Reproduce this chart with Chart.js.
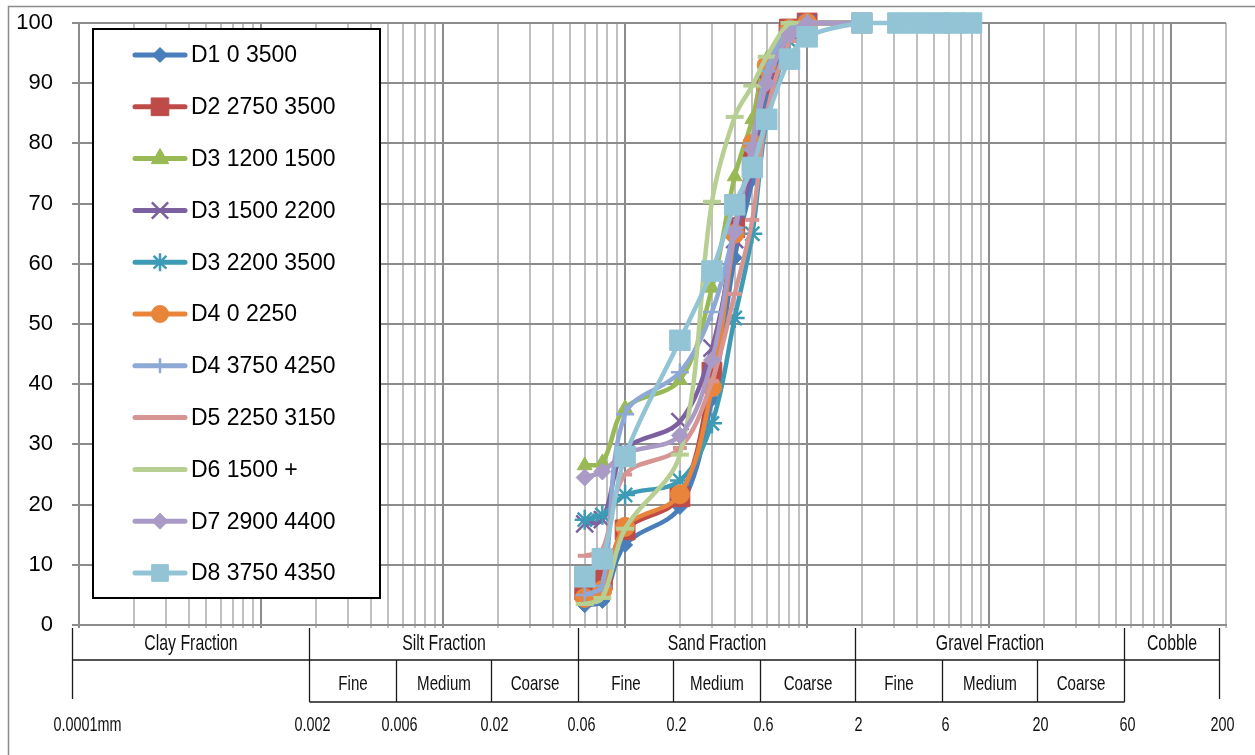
<!DOCTYPE html>
<html>
<head>
<meta charset="utf-8">
<title>Particle size distribution</title>
<script src="https://cdn.jsdelivr.net/npm/chart.js@4.4.0/dist/chart.umd.min.js"></script>
<style>
  html, body { margin: 0; padding: 0; background: #fff; }
</style>
</head>
<body>
<canvas id="chart" width="1255" height="755"></canvas>
<script>
// sieve sizes (mm)
const sizesMm = [0.06, 0.075, 0.1, 0.2, 0.3, 0.4, 0.5, 0.6, 0.8, 1.0, 2.0];
const sizesMmD8 = [0.06, 0.075, 0.1, 0.2, 0.3, 0.4, 0.5, 0.6, 0.8, 1.0, 2.0, 3.15, 4.1, 5.3, 6.4, 8.0];

// percent passing
const d1_0_3500    = [3.3, 4.0, 13.3, 19.6, 37.5, 61, 74, 88, 98, 100, 100];
const d2_2750_3500 = [5.8, 7.5, 15.8, 21.3, 42, 66, 77, 90, 99, 100, 100];
const d3_1200_1500 = [26.5, 27, 36, 40.7, 56, 74.5, 84, 94, 99, 100, 100];
const d3_1500_2200 = [16.8, 17.5, 29, 33.8, 46, 64, 76, 90, 98, 100, 100];
const d3_2200_3500 = [17.5, 18.3, 21.6, 24, 33.5, 51, 65, 84, 97, 100, 100];
const d4_0_2250    = [4.5, 5.8, 16.3, 21.7, 39.5, 65, 80, 93, 99, 100, 100];
const d4_3750_4250 = [5.0, 6.5, 35, 42, 52, 66, 80, 92, 99, 100, 100];
const d5_2250_3150 = [11.5, 12.5, 25, 29.4, 40.5, 55, 67.3, 85, 97, 100, 100];
const d6_1500      = [3.5, 4.5, 16, 28.3, 70.3, 84.4, 89.6, 94.4, 100, 100, 100];
const d7_2900_4400 = [24.5, 25.5, 28.5, 31.5, 44, 65.3, 79, 90, 98, 100, 100];
const d8_3750_4350 = [8, 11, 28, 47.3, 58.8, 69.8, 76, 84, 94, 97.7, 100, 100, 100, 100, 100, 100];

const seriesNames = ['D1 0 3500', 'D2 2750 3500', 'D3 1200 1500', 'D3 1500 2200', 'D3 2200 3500',
  'D4 0 2250', 'D4 3750 4250', 'D5 2250 3150', 'D6 1500 +', 'D7 2900 4400', 'D8 3750 4350'];
const seriesValues = [d1_0_3500, d2_2750_3500, d3_1200_1500, d3_1500_2200, d3_2200_3500,
  d4_0_2250, d4_3750_4250, d5_2250_3150, d6_1500, d7_2900_4400, d8_3750_4350];
const seriesSizes = seriesValues.map((v, i) => i === 10 ? sizesMmD8 : sizesMm);

// y axis ticks
const yTicks = [0, 10, 20, 30, 40, 50, 60, 70, 80, 90, 100];

// soil classification table under the axis
const fractionBounds = [0.0001, 0.002, 0.06, 2, 60, 200];
const fractionNames = ['Clay Fraction', 'Silt Fraction', 'Sand Fraction', 'Gravel Fraction', 'Cobble'];
const subBounds = [0.002, 0.006, 0.02, 0.06, 0.2, 0.6, 2, 6, 20, 60];
const subNames = ['Fine', 'Medium', 'Coarse', 'Fine', 'Medium', 'Coarse', 'Fine', 'Medium', 'Coarse'];
const sizeLabelValues = [0.0001, 0.002, 0.006, 0.02, 0.06, 0.2, 0.6, 2, 6, 20, 60, 200];
const sizeLabels = ['0.0001', '0.002', '0.006', '0.02', '0.06', '0.2', '0.6', '2', '6', '20', '60', '200'];

// styles
const seriesColors = ['#4A7EBB', '#BE4B48', '#98B954', '#7D60A0', '#3E9BB5', '#E9853B',
  '#8EA9D6', '#D69593', '#B8CF93', '#A99BC5', '#92C4D6'];
const markerStyles = ['rectRot', 'rect', 'triangle', 'crossRot', 'star', 'circle',
  'cross', 'line', 'line', 'rectRot', 'rect'];
const markerRadius = [7.5, 14, 8.5, 12, 10, 9.5, 9, 7, 9, 8.5, 14.5];
const legendRadius = [7.5, 12.5, 10, 11.5, 9, 8.5, 7.5, 0, 0, 8, 11.8];
const strokedMarkers = ['cross', 'crossRot', 'star', 'line'];

function gridTicks() {
  const out = [];
  for (let e = -4; e <= 2; e++) {
    for (let s = 1; s <= 9; s++) {
      const v = +(s * Math.pow(10, e)).toPrecision(6);
      if (v >= 0.0001 && v <= 200) out.push({ value: v, major: s === 1 });
    }
  }
  return out;
}

// the table text is a tall, condensed face
function narrowText(ctx, text, x, y, align) {
  ctx.save();
  ctx.translate(x, y);
  ctx.scale(0.72, 1);
  ctx.textAlign = align || 'center';
  ctx.fillText(text, 0, 0);
  ctx.restore();
}

const pageFrame = {
  id: 'pageFrame',
  beforeDraw(chart) {
    const ctx = chart.ctx;
    ctx.save();
    ctx.fillStyle = '#fff';
    ctx.fillRect(0, 0, chart.width, chart.height);
    ctx.strokeStyle = '#8c8c8c';
    ctx.lineWidth = 1.5;
    ctx.beginPath();
    ctx.moveTo(8.5, chart.height);
    ctx.lineTo(8.5, 6.5);
    ctx.lineTo(chart.width, 6.5);
    ctx.stroke();
    ctx.restore();
  }
};

const soilTable = {
  id: 'soilTable',
  afterDraw(chart) {
    const ctx = chart.ctx;
    const xs = chart.scales.x;
    const px = v => Math.round(xs.getPixelForValue(v)) - 7 + 0.5;
    const top = 628, mid = 660, bot = 702;
    ctx.save();
    ctx.strokeStyle = '#1a1a1a';
    ctx.lineWidth = 1.3;
    ctx.beginPath();
    fractionBounds.forEach((v, i) => {
      const last = i === 0 || i === fractionBounds.length - 1;
      ctx.moveTo(px(v), top);
      ctx.lineTo(px(v), last ? 699 : bot);
    });
    subBounds.forEach(v => {
      ctx.moveTo(px(v), mid);
      ctx.lineTo(px(v), bot);
    });
    ctx.moveTo(px(0.0001), mid);
    ctx.lineTo(px(200), mid);
    ctx.moveTo(px(0.002), bot);
    ctx.lineTo(px(60), bot);
    ctx.stroke();

    ctx.fillStyle = '#111';
    ctx.textBaseline = 'middle';
    ctx.font = '22px "Liberation Sans", Arial, sans-serif';
    fractionNames.forEach((name, i) => {
      narrowText(ctx, name, (px(fractionBounds[i]) + px(fractionBounds[i + 1])) / 2, 644);
    });
    ctx.font = '21px "Liberation Sans", Arial, sans-serif';
    subNames.forEach((name, i) => {
      narrowText(ctx, name, (px(subBounds[i]) + px(subBounds[i + 1])) / 2, 684);
    });
    ctx.font = '20px "Liberation Sans", Arial, sans-serif';
    sizeLabels.forEach((t, i) => {
      const cx = px(sizeLabelValues[i]) + 3;
      if (i === 0) {
        const w = ctx.measureText(t).width * 0.72;
        narrowText(ctx, t + 'mm', cx - w / 2, 725, 'left');
      } else {
        narrowText(ctx, t, cx, 725);
      }
    });
    ctx.restore();
  }
};

const boxedLegend = {
  id: 'boxedLegend',
  afterDraw(chart) {
    const ctx = chart.ctx;
    const bx = 93, by = 29, bw = 287, bh = 569;
    ctx.save();
    ctx.fillStyle = '#fff';
    ctx.fillRect(bx, by, bw, bh);
    ctx.strokeStyle = '#000';
    ctx.lineWidth = 2;
    ctx.strokeRect(bx, by, bw, bh);
    ctx.font = '23px "Liberation Sans", Arial, sans-serif';
    ctx.textBaseline = 'middle';
    chart.data.datasets.forEach((ds, i) => {
      const y = 55 + i * 51.8;
      ctx.strokeStyle = ds.borderColor;
      ctx.lineWidth = 5;
      ctx.lineCap = 'round';
      ctx.beginPath();
      ctx.moveTo(135, y);
      ctx.lineTo(185, y);
      ctx.stroke();
      ctx.lineCap = 'butt';
      if (legendRadius[i] > 0) {
        ctx.fillStyle = ds.pointBackgroundColor;
        ctx.strokeStyle = ds.pointBorderColor;
        ctx.lineWidth = ds.pointBorderWidth;
        Chart.helpers.drawPoint(ctx, {
          pointStyle: ds.pointStyle, rotation: 0,
          radius: legendRadius[i], borderWidth: ds.pointBorderWidth
        }, 160, y);
      }
      ctx.fillStyle = '#000';
      ctx.fillText(ds.label, 191, y + 1);
    });
    ctx.restore();
  }
};

const datasets = seriesNames.map((name, i) => ({
  label: name,
  data: seriesSizes[i].map((x, k) => ({ x: x, y: seriesValues[i][k] })),
  borderColor: seriesColors[i],
  backgroundColor: seriesColors[i],
  borderWidth: 4.5,
  pointStyle: markerStyles[i],
  pointRadius: markerRadius[i],
  pointBackgroundColor: seriesColors[i],
  pointBorderColor: seriesColors[i],
  pointBorderWidth: strokedMarkers.includes(markerStyles[i]) ? (markerStyles[i] === 'line' ? 4 : 2.5) : 1,
  tension: 0.35,
  clip: false,
  order: -i
}));

new Chart(document.getElementById('chart').getContext('2d'), {
  type: 'line',
  data: { datasets: datasets },
  options: {
    responsive: false,
    animation: false,
    events: [],
    layout: { padding: { top: 23, right: 29, left: 0, bottom: 0 } },
    plugins: {
      legend: { display: false },
      tooltip: { enabled: false }
    },
    scales: {
      x: {
        type: 'logarithmic',
        min: 0.0001,
        max: 200,
        afterFit(scale) { scale.height = 130; },
        afterBuildTicks(scale) { scale.ticks = gridTicks(); },
        ticks: { display: false },
        grid: {
          color: c => (c.tick && c.tick.major) ? '#8c8c8c' : '#c0c0c0',
          lineWidth: 2,
          tickLength: 3
        },
        border: { color: '#8c8c8c', width: 2 }
      },
      y: {
        min: 0,
        max: 100,
        afterFit(scale) {
          scale.width = 79;
          scale.paddingTop = 10;
          scale.paddingBottom = 10;
        },
        afterBuildTicks(scale) { scale.ticks = yTicks.map(v => ({ value: v })); },
        ticks: {
          color: '#000',
          padding: 19,
          font: { family: '"Liberation Sans", Arial, sans-serif', size: 22 }
        },
        grid: { color: '#8c8c8c', lineWidth: 2, tickLength: 7 },
        border: { color: '#8c8c8c', width: 2 }
      }
    }
  },
  plugins: [pageFrame, soilTable, boxedLegend]
});
</script>
</body>
</html>
